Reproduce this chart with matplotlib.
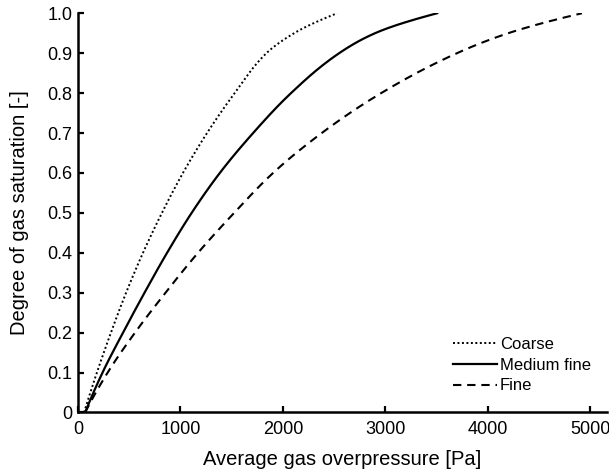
import matplotlib
matplotlib.use("Agg")
import matplotlib.pyplot as plt
import numpy as np

plt.rcParams["font.family"] = ["Liberation Sans", "DejaVu Sans"]

sat = [0.0, 0.1, 0.2, 0.3, 0.4, 0.5, 0.6, 0.7, 0.8, 0.9, 0.95, 1.0]
p_coarse = [60, 185, 322, 470, 635, 820, 1025, 1260, 1530, 1840, 2110, 2530]
p_medium = [70, 240, 440, 650, 870, 1110, 1385, 1710, 2080, 2550, 2900, 3506]
p_fine = [70, 290, 557, 855, 1172, 1525, 1905, 2380, 2960, 3700, 4200, 4920]

labels = ["Coarse", "Medium fine", "Fine"]
x_ticks = [0, 1000, 2000, 3000, 4000, 5000]
y_ticks = [0, 0.1, 0.2, 0.3, 0.4, 0.5, 0.6, 0.7, 0.8, 0.9, 1.0]
y_ticklabels = ["0", "0.1", "0.2", "0.3", "0.4", "0.5", "0.6", "0.7", "0.8", "0.9", "1.0"]


def pchip(xk, yk, xn):
    # monotone cubic through the read points, just to draw a smooth line
    xk = np.asarray(xk, float)
    yk = np.asarray(yk, float)
    h = np.diff(xk)
    delta = np.diff(yk) / h
    d = np.zeros_like(yk)
    for k in range(1, len(xk) - 1):
        if delta[k - 1] * delta[k] > 0:
            w1 = 2 * h[k] + h[k - 1]
            w2 = h[k] + 2 * h[k - 1]
            d[k] = (w1 + w2) / (w1 / delta[k - 1] + w2 / delta[k])
    d[0] = ((2 * h[0] + h[1]) * delta[0] - h[0] * delta[1]) / (h[0] + h[1])
    d[-1] = ((2 * h[-1] + h[-2]) * delta[-1] - h[-1] * delta[-2]) / (h[-1] + h[-2])
    idx = np.clip(np.searchsorted(xk, xn) - 1, 0, len(xk) - 2)
    t = (xn - xk[idx]) / h[idx]
    h00 = 2 * t**3 - 3 * t**2 + 1
    h10 = t**3 - 2 * t**2 + t
    h01 = -2 * t**3 + 3 * t**2
    h11 = t**3 - t**2
    return (h00 * yk[idx] + h10 * h[idx] * d[idx]
            + h01 * yk[idx + 1] + h11 * h[idx] * d[idx + 1])


s_fine = np.linspace(0, 1, 300)

fig = plt.figure(figsize=(6.09, 4.73), dpi=100)
ax = fig.add_axes([0.128, 0.128, 0.869, 0.844])

ax.plot(pchip(sat, p_coarse, s_fine), s_fine, color="black", lw=1.4,
        linestyle=(0, (1, 1.3)), label=labels[0])
ax.plot(pchip(sat, p_medium, s_fine), s_fine, color="black", lw=1.6, label=labels[1])
ax.plot(pchip(sat, p_fine, s_fine), s_fine, color="black", lw=1.5,
        dashes=(4, 2.8), label=labels[2])

ax.set_xlim(0, 5166)
ax.set_ylim(0, 1.0)
ax.set_xticks(x_ticks)
ax.set_yticks(y_ticks)
ax.set_yticklabels(y_ticklabels)

for side in ["top", "right"]:
    ax.spines[side].set_visible(False)
for side in ["left", "bottom"]:
    ax.spines[side].set_linewidth(1.8)

ax.tick_params(direction="in", length=4, width=1.6, labelsize=13)
ax.tick_params(axis="x", pad=6)
ax.tick_params(axis="y", pad=4)

ax.set_xlabel("Average gas overpressure [Pa]", fontsize=14.5, labelpad=9)
ax.set_ylabel("Degree of gas saturation [-]", fontsize=14.5, labelpad=13)

ax.legend(loc="upper left", bbox_to_anchor=(0.744, 0.288), bbox_transform=fig.transFigure,
          frameon=False, fontsize=12, borderpad=0, borderaxespad=0, handlelength=2.64,
          handletextpad=0.18, labelspacing=0.35)

fig.savefig("out.png", dpi=100)
